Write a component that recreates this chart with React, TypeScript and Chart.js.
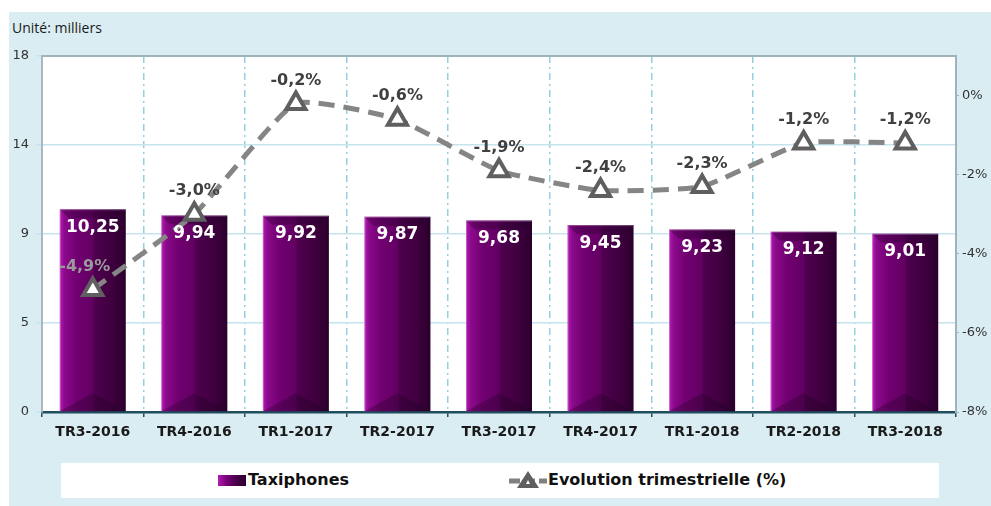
import React, { useEffect, useRef } from "react";
import { Chart, registerables } from "chart.js";

Chart.register(...registerables);

const categories = ["TR3-2016", "TR4-2016", "TR1-2017", "TR2-2017", "TR3-2017", "TR4-2017", "TR1-2018", "TR2-2018", "TR3-2018"];
const taxiphones = [10.25, 9.94, 9.92, 9.87, 9.68, 9.45, 9.23, 9.12, 9.01];
const evolution = [-4.9, -3.0, -0.2, -0.6, -1.9, -2.4, -2.3, -1.2, -1.2];
const leftTicks = [0, 4.5, 9, 13.5, 18];
const rightTicks = [-8, -6, -4, -2, 0];

const FONT = "'DejaVu Sans', Verdana, sans-serif";
const fmt = (v: number, d: number) => v.toFixed(d).replace(".", ",");

const BAR_PCT = 0.65;

const barFill = (ctx: any) => {
  const chart = ctx.chart;
  const xs = chart.scales && chart.scales.x;
  if (!xs || ctx.type !== "data" || !chart.chartArea) return "#5a005a";
  const cx = xs.getPixelForValue(ctx.dataIndex);
  const w = (xs.width / categories.length) * BAR_PCT;
  const l = cx - w / 2;
  const g = chart.ctx.createLinearGradient(l, 0, l + w, 0);
  g.addColorStop(0, "#b21cb2");
  g.addColorStop(0.07, "#8c0a8c");
  g.addColorStop(0.25, "#720072");
  g.addColorStop(0.5, "#620062");
  g.addColorStop(0.52, "#4f004f");
  g.addColorStop(0.8, "#3e003e");
  g.addColorStop(1, "#2a002c");
  return g;
};

const framePlugin = {
  id: "frame",
  beforeDraw(chart: any) {
    const { ctx, chartArea: a } = chart;
    ctx.save();
    ctx.fillStyle = "#ffffff";
    ctx.fillRect(a.left, a.top, a.right - a.left, a.bottom - a.top);
    ctx.restore();
  },
  beforeDatasetsDraw(chart: any) {
    const { ctx, chartArea: a } = chart;
    ctx.save();
    ctx.strokeStyle = "#9fb3ba";
    ctx.lineWidth = 2;
    ctx.beginPath();
    ctx.moveTo(a.left, a.top);
    ctx.lineTo(a.right, a.top);
    ctx.stroke();
    ctx.restore();
  },
  afterDatasetDraw(chart: any, args: any) {
    if (args.index !== 0) return;
    const { ctx } = chart;
    const meta = args.meta;
    ctx.save();
    meta.data.forEach((bar: any) => {
      const w = bar.width;
      const l = bar.x - w / 2;
      const r = bar.x + w / 2;
      const t = bar.y;
      const b = bar.base;
      const bv = 9;
      ctx.fillStyle = "rgba(40,0,45,0.35)";
      ctx.beginPath();
      ctx.moveTo(l, t);
      ctx.lineTo(r, t);
      ctx.lineTo(r - bv, t + bv);
      ctx.lineTo(l + bv, t + bv);
      ctx.closePath();
      ctx.fill();
      ctx.fillStyle = "rgba(25,0,30,0.3)";
      ctx.beginPath();
      ctx.moveTo(l, b);
      ctx.lineTo(bar.x, b - bv * 2);
      ctx.lineTo(r, b);
      ctx.closePath();
      ctx.fill();
      ctx.strokeStyle = "rgba(255,200,255,0.35)";
      ctx.lineWidth = 1;
      ctx.beginPath();
      ctx.moveTo(l + 0.5, b);
      ctx.lineTo(l + 0.5, t + 0.5);
      ctx.lineTo(r - 0.5, t + 0.5);
      ctx.stroke();
    });
    ctx.restore();
  },
  afterDatasetsDraw(chart: any) {
    const { ctx } = chart;
    const bars = chart.getDatasetMeta(0).data;
    const pts = chart.getDatasetMeta(1).data;
    ctx.save();
    ctx.textAlign = "center";
    ctx.textBaseline = "middle";
    ctx.font = `bold 17px ${FONT}`;
    ctx.fillStyle = "#ffffff";
    bars.forEach((bar: any, i: number) => {
      ctx.fillText(fmt(taxiphones[i], 2), bar.x, bar.y + 18);
    });
    ctx.font = `bold 16px ${FONT}`;
    pts.forEach((p: any, i: number) => {
      const ly = p.y - 23;
      const overBar = ly > bars[i].y;
      ctx.fillStyle = overBar ? "#9a9a9a" : "#404040";
      ctx.fillText(fmt(evolution[i], 1) + "%", p.x - (overBar ? 8 : 0), ly);
    });
    ctx.restore();
  },
};

function LegendLine() {
  return (
    <svg width="40" height="22" style={{ position: "absolute", left: 447, top: 6 }}>
      <line x1="1" y1="12" x2="39" y2="12" stroke="#808080" strokeWidth="5" strokeDasharray="11 4" />
      <polygon points="20,2 31,19 9,19" fill="#5f5f5f" />
      <polygon points="20,11 22,15 18,15" fill="#ffffff" />
    </svg>
  );
}

export default function App() {
  const ref = useRef<HTMLCanvasElement>(null);
  useEffect(() => {
    if (!ref.current) return;
    const chart = new Chart(ref.current, {
      type: "bar",
      data: {
        labels: categories,
        datasets: [
          {
            type: "bar",
            label: "Taxiphones",
            data: taxiphones,
            backgroundColor: barFill,
            borderWidth: 0,
            barPercentage: BAR_PCT,
            categoryPercentage: 1,
            yAxisID: "y",
            order: 1,
          },
          {
            type: "line",
            label: "Evolution trimestrielle (%)",
            data: evolution,
            yAxisID: "y1",
            borderColor: "#858585",
            borderWidth: 5,
            borderDash: [16, 9],
            tension: 0.15,
            pointStyle: "triangle",
            pointRadius: 11,
            pointBackgroundColor: "#ffffff",
            pointBorderColor: "#5f5f5f",
            pointBorderWidth: 4,
            order: 0,
          } as any,
        ],
      },
      options: {
        responsive: false,
        animation: false,
        devicePixelRatio: 1,
        layout: { padding: { top: 56, left: 0, right: 0, bottom: 0 } },
        plugins: { legend: { display: false }, tooltip: { enabled: false } },
        scales: {
          x: {
            grid: {
              offset: true,
              color: "#93cfe0",
              lineWidth: 1.5,
              tickColor: "#1f4e5f",
              tickLength: 5,
              tickBorderDash: [],
              drawOnChartArea: true,
            } as any,
            border: { color: "#1f4e5f", width: 2.5, dash: [7, 4, 2, 4] } as any,
            ticks: { font: { family: FONT, size: 14, weight: "bold" }, color: "#1a1a1a", padding: 7, maxRotation: 0 },
            afterFit: (s: any) => { s.height = 94; },
          },
          y: {
            position: "left",
            min: 0,
            max: 18,
            afterBuildTicks: (s: any) => { s.ticks = leftTicks.map((v) => ({ value: v })); },
            ticks: {
              font: { family: FONT, size: 13 },
              color: "#333333",
              padding: 7,
              callback: (v: any) => String(Math.round(Number(v))),
            },
            grid: { color: "#c6e4ee", lineWidth: 1.5, tickLength: 6 },
            border: { color: "#a7b9bf", width: 2 },
            afterFit: (s: any) => { s.width = 42; },
          },
          y1: {
            position: "right",
            min: -8,
            max: 1,
            afterBuildTicks: (s: any) => { s.ticks = rightTicks.map((v) => ({ value: v })); },
            ticks: {
              font: { family: FONT, size: 13 },
              color: "#333333",
              padding: 3,
              callback: (v: any) => `${v}%`,
            },
            grid: { drawOnChartArea: false, tickLength: 3, color: "#9fb3ba" },
            border: { color: "#9fb3ba", width: 2 },
            afterFit: (s: any) => { s.width = 35; },
          },
        },
      },
      plugins: [framePlugin],
    });
    return () => chart.destroy();
  }, []);

  return (
    <div style={{ position: "absolute", left: 0, top: 0, width: 991, height: 506, background: "#ffffff", overflow: "hidden" }}>
      <div style={{ position: "absolute", left: 9, top: 12, width: 982, height: 494, background: "#daedf3" }} />
      <div style={{ position: "absolute", left: 12, top: 18, font: `14px 'Open Sans', sans-serif`, color: "#1a1a1a", whiteSpace: "nowrap" }}>
        Unité: milliers
      </div>
      <canvas ref={ref} width={991} height={506} style={{ position: "absolute", left: 0, top: 0, width: 991, height: 506 }} />
      <div style={{ position: "absolute", left: 61, top: 463, width: 878, height: 35, background: "#ffffff" }}>
        <div style={{ position: "absolute", left: 157, top: 12, width: 28, height: 11, background: "linear-gradient(90deg,#b21cb2 0%,#7a007a 30%,#4f004f 60%,#2a002c 100%)" }} />
        <div style={{ position: "absolute", left: 187, top: 7, font: `bold 16px ${FONT}`, color: "#111", whiteSpace: "nowrap" }}>Taxiphones</div>
        <LegendLine />
        <div style={{ position: "absolute", left: 487, top: 7, font: `bold 16px ${FONT}`, color: "#111", whiteSpace: "nowrap" }}>Evolution trimestrielle (%)</div>
      </div>
    </div>
  );
}
